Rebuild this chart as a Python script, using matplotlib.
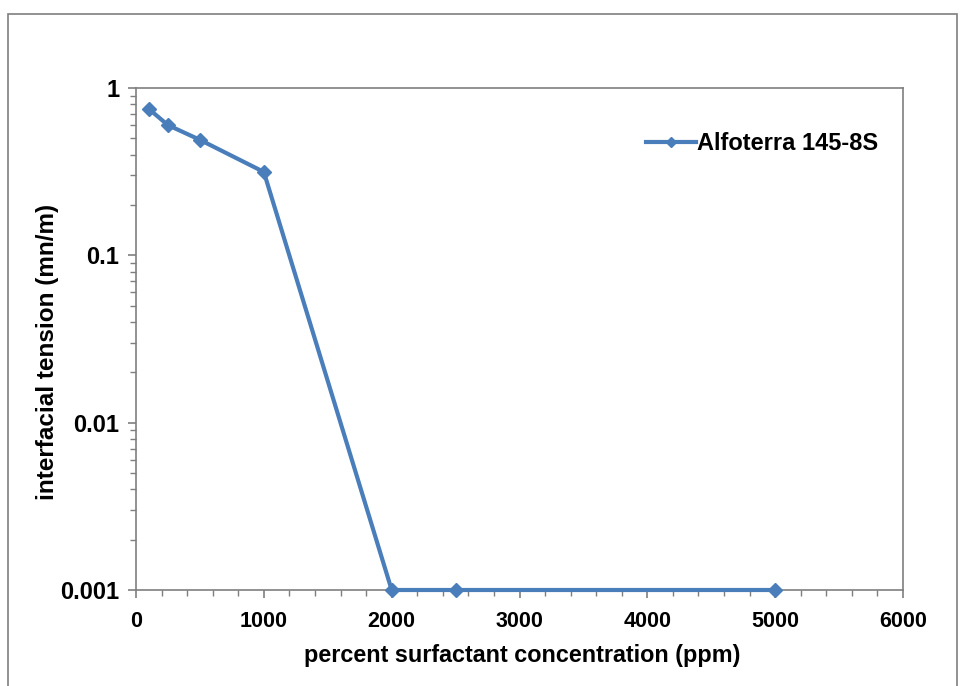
import matplotlib
matplotlib.use("Agg")
import matplotlib.pyplot as plt
from matplotlib.patches import Rectangle
from matplotlib.ticker import FixedLocator, LogLocator, NullFormatter, FuncFormatter

# 数据：表面活性剂浓度 (ppm) 与界面张力 (mn/m)
conc_ppm = [100, 250, 500, 1000, 2000, 2500, 5000]
ift = [0.75, 0.60, 0.49, 0.315, 0.001, 0.001, 0.001]
series_name = "Alfoterra 145-8S"
x_ticks = [0, 1000, 2000, 3000, 4000, 5000, 6000]
y_ticks = [0.001, 0.01, 0.1, 1]
y_tick_labels = ["0.001", "0.01", "0.1", "1"]

plt.rcParams["font.family"] = ["Liberation Sans", "DejaVu Sans"]
plt.rcParams["font.weight"] = "bold"

fig = plt.figure(figsize=(9.6, 6.86), dpi=100)
ax = fig.add_axes([136 / 960, 1 - 590 / 686, (903 - 136) / 960, (590 - 88) / 686])

# 外框
fig.patches.append(Rectangle((8 / 960, -0.05), (957 - 8) / 960, 1.05 - 14 / 686,
                             transform=fig.transFigure, fill=False,
                             edgecolor="#7f7f7f", linewidth=1.2))

blue = "#4a7ebb"
ax.plot(conc_ppm, ift, color=blue, linewidth=3, marker="D", markersize=7,
        label=series_name, clip_on=False, zorder=5)

ax.set_yscale("log")
ax.set_xlim(0, 6000)
ax.set_ylim(0.001, 1)

ax.xaxis.set_major_locator(FixedLocator(x_ticks))
ax.xaxis.set_minor_locator(FixedLocator(range(0, 6001, 200)))
ax.yaxis.set_major_locator(FixedLocator(y_ticks))
ax.yaxis.set_major_formatter(FuncFormatter(lambda v, p: y_tick_labels[y_ticks.index(v)] if v in y_ticks else ""))
ax.yaxis.set_minor_locator(LogLocator(base=10, subs=range(2, 10)))
ax.yaxis.set_minor_formatter(NullFormatter())

ax.tick_params(axis="x", which="major", labelsize=15.5, length=6, width=1.2, color="#7f7f7f", pad=9)
ax.tick_params(axis="y", which="major", labelsize=17, length=6, width=1.2, color="#7f7f7f", pad=6)
ax.tick_params(axis="both", which="minor", length=4, width=1, color="#7f7f7f")
for side in ax.spines.values():
    side.set_color("#7f7f7f")
    side.set_linewidth(1.2)

ax.set_xlabel("percent surfactant concentration (ppm)", fontsize=16.8, fontweight="bold")
ax.set_ylabel("interfacial tension (mn/m)", fontsize=17.5, fontweight="bold")
ax.xaxis.set_label_coords(0.503, -0.108)
ax.yaxis.set_label_coords(-0.101, 0.474)

ax.legend(loc="upper right", bbox_to_anchor=(0.995, 0.955), frameon=False, fontsize=17,
          handlelength=2.1, handletextpad=0.05, markerscale=0.7)

fig.savefig("out.png", dpi=100)
